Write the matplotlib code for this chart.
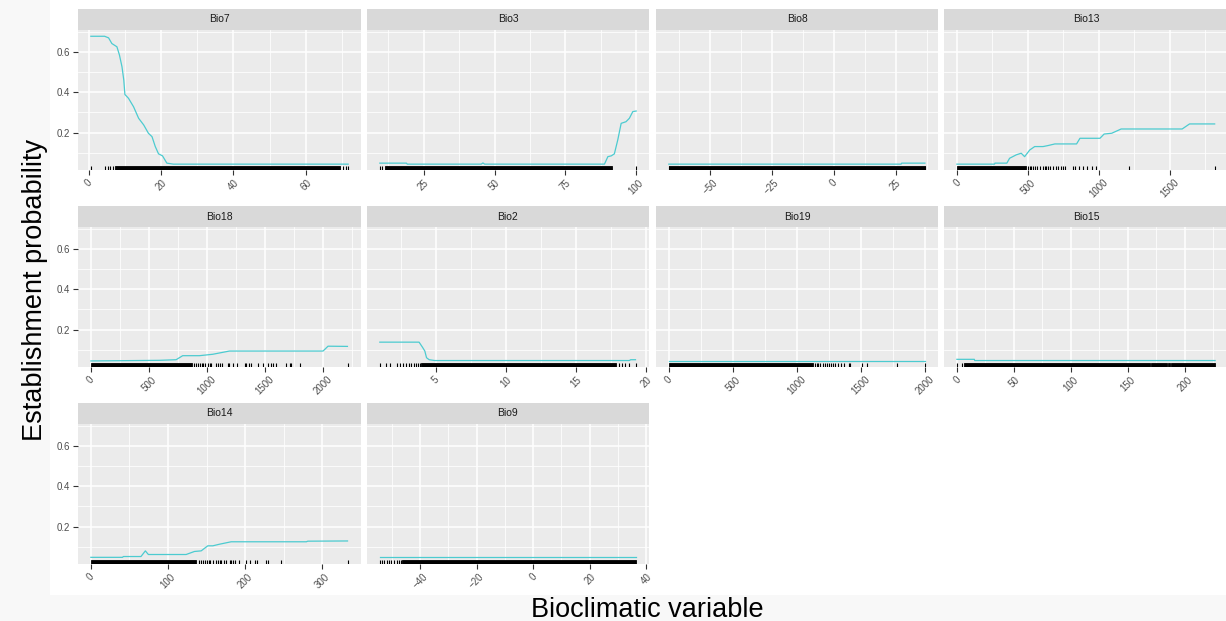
import matplotlib
matplotlib.use('Agg')
import matplotlib.pyplot as plt
from matplotlib.ticker import AutoMinorLocator, FixedLocator
from matplotlib.patches import Rectangle

plt.rcParams['font.family'] = ['Liberation Sans', 'DejaVu Sans']

# ---------------- data ----------------
panels = ["Bio7", "Bio3", "Bio8", "Bio13", "Bio18", "Bio2", "Bio19", "Bio15", "Bio14", "Bio9"]

bio7_x = [0.6, 4.4, 5.5, 6.4, 7.8, 8.5, 9.2, 9.7, 10.0, 11.0, 12.4, 13.8, 15.2, 16.5, 17.5, 18.4, 19.3, 20.4, 21.6, 23.4, 71.7]
bio7_y = [0.677, 0.677, 0.669, 0.641, 0.625, 0.584, 0.526, 0.46, 0.389, 0.37, 0.328, 0.271, 0.238, 0.197, 0.18, 0.131, 0.095, 0.085, 0.049, 0.044, 0.044]
bio7_rug = [0.6, 4.6, 5.3, 6.0, 6.7, 70.3, 71.2, 71.7]
bio7_bands = [(7.4, 69.4)]
bio7_ticks = [0, 20, 40, 60]

bio3_x = [9.5, 18.9, 19.2, 45.3, 45.9, 46.5, 88.8, 90.0, 91.2, 92.3, 93.5, 94.7, 96.4, 97.6, 98.8, 100.0]
bio3_y = [0.049, 0.049, 0.044, 0.044, 0.050, 0.044, 0.044, 0.081, 0.085, 0.095, 0.164, 0.246, 0.254, 0.271, 0.304, 0.307]
bio3_rug = [9.5, 10.2, 100.0]
bio3_bands = [(11.3, 91.4)]
bio3_ticks = [25, 50, 75, 100]

bio8_x = [-66.5, 27.2, 27.4, 36.8]
bio8_y = [0.044, 0.044, 0.049, 0.049]
bio8_rug = [-66.5, 36.8]
bio8_bands = [(-66.5, 36.9)]
bio8_ticks = [-50, -25, 0, 25]

bio13_x = [0, 265, 268, 352, 371, 418, 453, 477, 513, 548, 607, 642, 690, 843, 867, 1008, 1037, 1091, 1157, 1587, 1639, 1816]
bio13_y = [0.044, 0.044, 0.049, 0.049, 0.073, 0.090, 0.098, 0.081, 0.114, 0.131, 0.131, 0.136, 0.144, 0.144, 0.172, 0.172, 0.193, 0.197, 0.218, 0.218, 0.243, 0.243]
bio13_rug = [501, 513, 524, 536, 548, 565, 583, 607, 619, 631, 642, 659, 678, 697, 713, 730, 749, 760,
             820, 831, 860, 890, 919, 949, 978, 1209, 1819]
bio13_bands = [(0, 489)]
bio13_ticks = [0, 500, 1000, 1500]

bio18_x = [0, 590, 734, 791, 935, 1050, 1194, 2000, 2043, 2210]
bio18_y = [0.045, 0.048, 0.051, 0.071, 0.071, 0.078, 0.094, 0.094, 0.118, 0.117]
bio18_rug = [892, 906, 927, 941, 958, 970, 987, 1007, 1022, 1036, 1079, 1094, 1108, 1131, 1180, 1194, 1223,
             1258, 1324, 1338, 1361, 1381, 1439, 1482, 1525, 1554, 1568, 1591, 1683, 1712, 1727, 1799, 2216]
bio18_bands = [(0, 872)]
bio18_ticks = [0, 500, 1000, 1500, 2000]

bio2_x = [1.01, 3.81, 4.05, 4.22, 4.34, 4.53, 4.93, 18.8, 18.9, 19.24]
bio2_y = [0.138, 0.138, 0.113, 0.094, 0.061, 0.051, 0.047, 0.047, 0.051, 0.051]
bio2_rug = [1.01, 1.44, 1.72, 2.25, 2.44, 2.63, 2.91, 3.10, 3.20, 3.43, 3.58, 3.74, 3.86,
            18.1, 18.3, 18.5, 18.77, 19.29]
bio2_bands = [(3.98, 17.86)]
bio2_ticks = [5, 10, 15, 20]

bio19_x = [0, 2000]
bio19_y = [0.047, 0.047]
bio19_rug = [1140, 1153, 1166, 1179, 1205, 1218, 1231, 1251, 1262, 1277, 1295, 1321, 1342, 1365,
             1407, 1417, 1508, 1547, 1780, 2000]
bio19_bands = [(0, 748), (754, 1127)]
bio19_ticks = [0, 500, 1000, 1500, 2000]

bio15_x = [0, 15.3, 15.6, 226.5]
bio15_y = [0.053, 0.053, 0.047, 0.047]
bio15_rug = [0, 4.7]
bio15_bands = [(6.5, 169.3), (170.2, 184.1), (185.3, 187.0), (188.2, 226.5)]
bio15_ticks = [0, 50, 100, 150, 200]

bio14_x = [0, 41.1, 42.0, 64.9, 70.6, 74.5, 123.4, 134.2, 142.9, 151.5, 158.0, 166.7, 181.8, 279.2, 281.0, 332.5]
bio14_y = [0.048, 0.048, 0.052, 0.052, 0.080, 0.062, 0.062, 0.077, 0.080, 0.105, 0.105, 0.113, 0.125, 0.125, 0.128, 0.129]
bio14_rug = [139.8, 142.9, 145.9, 148.5, 150.2, 152.8, 154.5, 158.0, 162.3, 164.5, 166.7, 168.8, 171.9,
             175.3, 179.7, 181.8, 184.0, 186.1, 191.8, 201.3, 205.6, 212.1, 215.2, 227.3, 229.4, 246.8, 333.3]
bio14_bands = [(0, 136.4)]
bio14_ticks = [0, 100, 200, 300]

bio9_x = [-54.2, 36.4]
bio9_y = [0.048, 0.048]
bio9_rug = [-54.2, -53.6, -52.8, -51.8, -50.9, -50.1, -49.3, -48.3, -47.4, -46.6]
bio9_bands = [(-46.2, 36.4)]
bio9_ticks = [-40, -20, 0, 20, 40]

y_ticks = [0.2, 0.4, 0.6]
y_limits = (0.015, 0.708)

line_x = [bio7_x, bio3_x, bio8_x, bio13_x, bio18_x, bio2_x, bio19_x, bio15_x, bio14_x, bio9_x]
line_y = [bio7_y, bio3_y, bio8_y, bio13_y, bio18_y, bio2_y, bio19_y, bio15_y, bio14_y, bio9_y]
rugs = [bio7_rug, bio3_rug, bio8_rug, bio13_rug, bio18_rug, bio2_rug, bio19_rug, bio15_rug, bio14_rug, bio9_rug]
bands = [bio7_bands, bio3_bands, bio8_bands, bio13_bands, bio18_bands, bio2_bands, bio19_bands,
         bio15_bands, bio14_bands, bio9_bands]
xticks = [bio7_ticks, bio3_ticks, bio8_ticks, bio13_ticks, bio18_ticks, bio2_ticks, bio19_ticks,
          bio15_ticks, bio14_ticks, bio9_ticks]

# ---------------- layout ----------------
W, H = 1226, 621
fig = plt.figure(figsize=(W / 100, H / 100), dpi=100)
fig.patch.set_facecolor('#f8f8f8')
bg = Rectangle((50 / W, 1 - 595 / H), 1 - 50 / W, 595 / H, transform=fig.transFigure,
               facecolor='white', edgecolor='none', zorder=-10)
fig.add_artist(bg)

col_l = [78, 367, 656, 944]
col_r = [361, 649, 938, 1228]
rows = [(9, 30, 170), (206, 227, 367), (403, 424, 564)]  # strip top, plot top, plot bottom

line_color = '#4ccbd0'
grid_col = 'white'
tick_col = '#4d4d4d'

for i, name in enumerate(panels):
    r, c = divmod(i, 4)
    st, pt, pb = rows[r]
    left = col_l[c] / W
    width = (col_r[c] - col_l[c]) / W
    ax = fig.add_axes([left, 1 - pb / H, width, (pb - pt) / H])
    ax.set_facecolor('#ebebeb')
    for s in ax.spines.values():
        s.set_visible(False)

    xs = line_x[i] + rugs[i] + [b[0] for b in bands[i]] + [b[1] for b in bands[i]]
    lo, hi = min(xs), max(xs)
    pad = (hi - lo) * 0.05
    ax.set_xlim(lo - pad, hi + pad)
    ax.set_ylim(*y_limits)

    ax.xaxis.set_major_locator(FixedLocator(xticks[i]))
    ax.xaxis.set_minor_locator(AutoMinorLocator(2))
    ax.yaxis.set_major_locator(FixedLocator(y_ticks))
    ax.yaxis.set_minor_locator(AutoMinorLocator(2))
    ax.set_axisbelow(True)
    ax.grid(which='major', color=grid_col, lw=1.1)
    ax.grid(which='minor', color=grid_col, lw=0.55)

    ax.tick_params(axis='x', which='major', length=3.5, width=0.8, color='#333333',
                   labelsize=7, labelcolor=tick_col, pad=2)
    ax.tick_params(which='minor', length=0)
    for lab in ax.get_xticklabels():
        lab.set_rotation(45)
        lab.set_ha('center')
        lab.set_va('top')
    if c == 0:
        ax.tick_params(axis='y', which='major', length=3.5, width=0.8, color='#333333',
                       labelsize=7, labelcolor=tick_col, pad=2)
        ax.set_yticklabels([f"{v:.1f}" for v in y_ticks])
    else:
        ax.tick_params(axis='y', which='major', length=0, labelleft=False)

    # rug
    for a, b in bands[i]:
        ax.axvspan(a, b, ymin=0, ymax=0.03, facecolor='black', edgecolor='black', lw=0.6, zorder=3)
    ax.vlines(rugs[i], 0, 0.03, transform=ax.get_xaxis_transform(), color='black', lw=0.8, zorder=3)

    ax.plot(line_x[i], line_y[i], color=line_color, lw=0.9, zorder=4)

    # strip
    sax = fig.add_axes([left, 1 - pt / H, width, (pt - st) / H])
    sax.set_facecolor('#d9d9d9')
    sax.set_xticks([])
    sax.set_yticks([])
    for s in sax.spines.values():
        s.set_visible(False)
    sax.text(0.5, 0.5, name, ha='center', va='center', fontsize=7.5, color='#1a1a1a',
             transform=sax.transAxes)

fig.text(35 / W, 1 - 290 / H, 'Establishment probability', rotation=90, ha='center', va='center',
         fontsize=19.5, color='black')
fig.text(647 / W, 1 - 617 / H, 'Bioclimatic variable', ha='center', va='baseline',
         fontsize=19.5, color='black')

fig.savefig('out.png', dpi=100, facecolor=fig.get_facecolor())
